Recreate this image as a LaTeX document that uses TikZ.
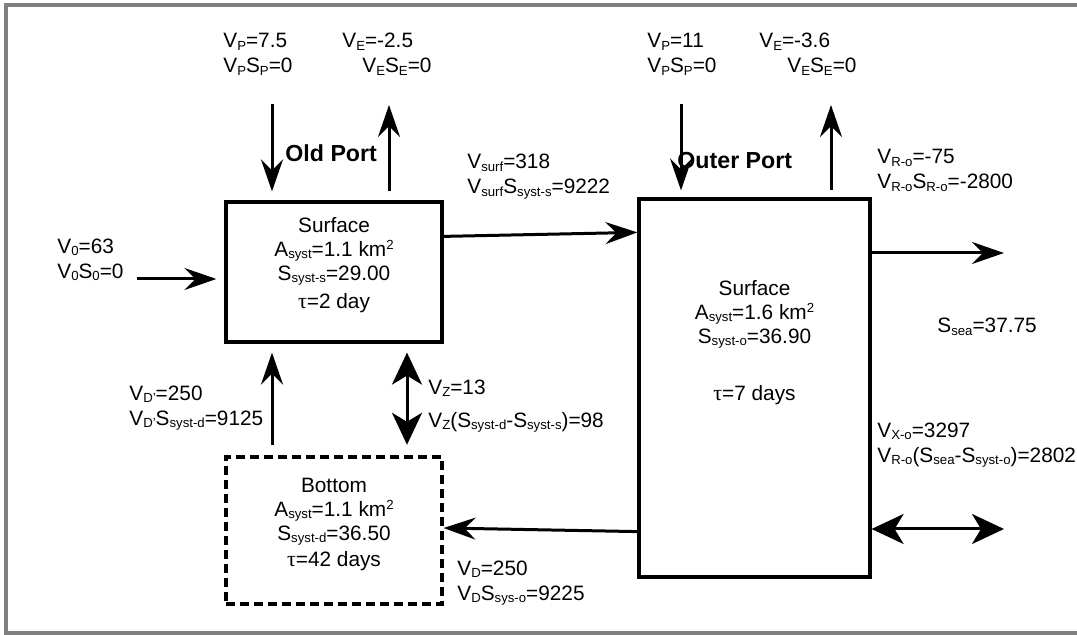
\documentclass[tikz,border=0pt]{standalone}
\usepackage{fontspec}
\setmainfont{Liberation Sans}
\newfontfamily\taufont{Liberation Serif}
\usetikzlibrary{positioning, calc, arrows.meta}
\newcommand{\sbs}[1]{\raisebox{-1.2pt}{\fontsize{6.6}{7}\selectfont #1}}
\newcommand{\sps}[1]{\raisebox{3.4pt}{\fontsize{6.6}{7}\selectfont #1}}
\newcommand{\tauchar}{{\taufont\fontsize{11}{12}\selectfont τ}}
\begin{document}
\begin{tikzpicture}[x=0.5pt, y=-0.5pt,
    font=\fontsize{10.4}{12.5}\selectfont,
    sysbox/.style={draw, line width=1.6pt, inner sep=0pt},
    boxtext/.style={inner sep=0pt, align=center, font=\fontsize{10.4}{12}\selectfont},
    flowlabel/.style={inner sep=0pt, align=left, anchor=north west},
    portlabel/.style={inner sep=0pt, anchor=west, font=\fontsize{11.6}{14}\selectfont\bfseries},
    flow/.style={line width=1.5pt, -{Stealth[length=16pt, width=11pt, inset=5.5pt]}},
    exchange/.style={line width=1.5pt, {Stealth[length=16pt, width=15pt, inset=4.5pt]}-{Stealth[length=16pt, width=15pt, inset=4.5pt]}}]

    \useasboundingbox (0,0) rectangle (1077,635);

    % --- Frame ---
    \draw[black!50, line width=2pt] (1077,5.5) -- (5.5,5.5) -- (5.5,633.5) -- (1077,633.5);

    % --- Boxes ---
    % Old Port surface and bottom layer
    \node[sysbox, minimum width=108pt, minimum height=70pt] (oldsurf) at (334,272) {};
    \node[sysbox, dash pattern=on 4.5pt off 2.5pt, minimum width=108pt, minimum height=73.5pt] (oldbot) at (334,530.5) {};
    % Outer Port surface
    \node[sysbox, minimum width=115.5pt, minimum height=189pt] (outer) at (754.5,388) {};

    \node[boxtext, below=8.2pt of oldsurf.north] (oldsurftxt)
        {Surface\\A\sbs{syst}=1.1 km\sps{2}\\S\sbs{syst-s}=29.00\\[2pt]\tauchar=2 day};
    \node[boxtext, below=11.2pt of oldbot.north] (oldbottxt)
        {Bottom\\A\sbs{syst}=1.1 km\sps{2}\\S\sbs{syst-d}=36.50\\[1pt]\tauchar=42 days};
    \node[boxtext, below=41.2pt of outer.north] (outertxt)
        {Surface\\A\sbs{syst}=1.6 km\sps{2}\\S\sbs{syst-o}=36.90\\[16.5pt]\tauchar=7 days};

    % --- Port names ---
    \node[portlabel] (oldname) at (285,153) {Old Port};
    \node[portlabel] (outername) at (677,161) {Outer Port};

    % --- Old Port fluxes ---
    \coordinate (v0start) at (137,279);
    \draw[flow, shorten >=4pt] (v0start) -- (v0start -| oldsurf.west);
    \coordinate (pold) at (272,104);
    \draw[flow, shorten >=4.5pt] (pold) -- (pold |- oldsurf.north);
    \coordinate (eold) at (389,105);
    \draw[flow, shorten <=4.5pt] (eold |- oldsurf.north) -- (eold);
    \draw[flow, shorten <=5.3pt, shorten >=4.5pt] (pold |- oldbot.north) -- (pold |- oldsurf.south);
    \coordinate (zcol) at (407,0);
    \draw[exchange, shorten <=4.5pt, shorten >=5.3pt] (zcol |- oldsurf.south) -- (zcol |- oldbot.north);

    % --- Exchange between ports ---
    \draw[flow] ($(oldsurf.north east)+(0,36)$) -- ($(outer.north west)+(0,35)$);
    \draw[flow] ($(outer.south west)+(0,-47)$) -- ($(oldbot.east)+(0,-2.5)$);

    % --- Outer Port fluxes ---
    \coordinate (pout) at (681,104);
    \draw[flow, shorten >=3.5pt] (pout) -- (pout |- outer.north);
    \coordinate (eout) at (831,105);
    \draw[flow, shorten <=3.5pt] (eout |- outer.north) -- (eout);
    \coordinate (rout) at (1004,253);
    \draw[flow] (rout -| outer.east) -- (rout);
    \coordinate (xout) at (1004,529);
    \draw[exchange] (xout -| outer.east) -- (xout);

    % --- Labels ---
    \node[flowlabel] (lpold) at (223,33) {V\sbs{P}=7.5\\V\sbs{P}S\sbs{P}=0};
    \node[flowlabel] (leold) at (342,33) {V\sbs{E}=-2.5\\\hspace*{10pt}V\sbs{E}S\sbs{E}=0};
    \node[flowlabel] (lpout) at (647,33) {V\sbs{P}=11\\V\sbs{P}S\sbs{P}=0};
    \node[flowlabel] (leout) at (759,33) {V\sbs{E}=-3.6\\\hspace*{14pt}V\sbs{E}S\sbs{E}=0};
    \node[flowlabel] (lsurf) at (467,154) {V\sbs{surf}=318\\V\sbs{surf}S\sbs{syst-s}=9222};
    \node[flowlabel] (lrout) at (877,149) {V\sbs{R-o}=-75\\V\sbs{R-o}S\sbs{R-o}=-2800};
    \node[flowlabel] (lv0) at (57,238.5) {V\sbs{0}=63\\V\sbs{0}S\sbs{0}=0};
    \node[flowlabel] (ldp) at (129,385.5) {V\sbs{D'}=250\\V\sbs{D'}S\sbs{syst-d}=9125};
    \node[flowlabel] (lz) at (428,379.5) {V\sbs{Z}=13\\[4pt]V\sbs{Z}(S\sbs{syst-d}-S\sbs{syst-s})=98};
    \node[flowlabel] (ld) at (457,560.5) {V\sbs{D}=250\\V\sbs{D}S\sbs{sys-o}=9225};
    \node[flowlabel] (lxout) at (877,422.5) {V\sbs{X-o}=3297\\V\sbs{R-o}(S\sbs{sea}-S\sbs{syst-o})=2802};
    \node[inner sep=0pt, anchor=west] (lsea) at (937,327) {S\sbs{sea}=37.75};

\end{tikzpicture}
\end{document}
